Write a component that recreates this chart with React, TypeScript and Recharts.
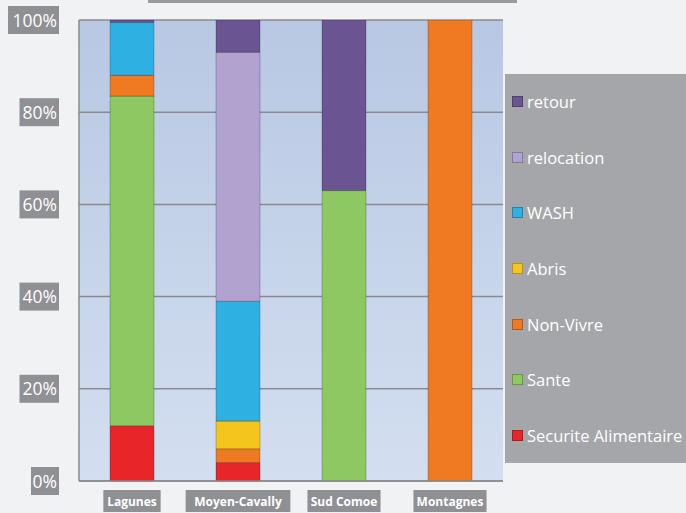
import { BarChart, Bar, XAxis, YAxis, CartesianGrid } from 'recharts';

const categories = ['Lagunes', 'Moyen-Cavally', 'Sud Comoe', 'Montagnes'];
const securite = [12, 4, 0, 0];
const sante = [71.5, 0, 63, 0];
const nonVivre = [4.5, 3, 0, 100];
const abris = [0, 6, 0, 0];
const wash = [11.5, 26, 0, 0];
const relocation = [0, 54, 0, 0];
const retour = [0.5, 7, 37, 0];
const yTicks = [0, 20, 40, 60, 80, 100];

const series = [
    { key: 'securite', name: 'Securite Alimentaire', color: '#e8262a', values: securite },
    { key: 'sante', name: 'Sante', color: '#8dc862', values: sante },
    { key: 'nonVivre', name: 'Non-Vivre', color: '#f07a22', values: nonVivre },
    { key: 'abris', name: 'Abris', color: '#f4c51c', values: abris },
    { key: 'wash', name: 'WASH', color: '#2eb0e3', values: wash },
    { key: 'relocation', name: 'relocation', color: '#b2a2cf', values: relocation },
    { key: 'retour', name: 'retour', color: '#6a5592', values: retour },
];

const data = categories.map((name, i) => {
    const row: any = { name };
    series.forEach((s) => { row[s.key] = s.values[i]; });
    return row;
});

const font = '"Open Sans", sans-serif';

const YTick = ({ x, y, payload }: any) => {
    const text = `${payload.value}%`;
    const w = text.length * 11.5 + 5;
    return (
        <g>
            <rect x={x - w} y={y - 14} width={w} height={28} fill="#8f9093" />
            <text x={x - 2} y={y + 6.5} textAnchor="end" fill="#fff" fontSize={17.5} fontFamily={font}>{text}</text>
        </g>
    );
};

const XTick = ({ x, y, payload }: any) => {
    const text = payload.value;
    const w = text.length * 7.9 + 2;
    return (
        <g>
            <rect x={x - w / 2} y={y} width={w} height={22} fill="#8f9093" />
            <text x={x} y={y + 16} textAnchor="middle" fill="#fff" fontSize={12} fontWeight="bold" fontFamily={font}>{text}</text>
        </g>
    );
};

// legend drawn as a plain box on top of the chart, like the original
const LegendBox = () => (
    <div style={{ position: 'absolute', left: 505, top: 74, width: 181, height: 389, background: '#a5a6a9', display: 'flex', flexDirection: 'column', fontFamily: font, overflow: 'hidden' }}>
        {[...series].reverse().map((s) => (
            <div key={s.key} style={{ height: 55.6, display: 'flex', alignItems: 'center', paddingLeft: 7, color: '#fff', fontSize: 16.5, whiteSpace: 'nowrap' }}>
                <span style={{ width: 11, height: 11, background: s.color, border: '1px solid rgba(0,0,0,0.25)', boxSizing: 'border-box', marginRight: 4, display: 'inline-block', flexShrink: 0 }} />
                {s.name}
            </div>
        ))}
    </div>
);

export default function App() {
    return (
        <div style={{ position: 'absolute', left: 0, top: 0, width: 686, height: 513, background: '#f1f2f4' }}>
            <div style={{ position: 'absolute', left: 148, top: 0, width: 369, height: 3, background: '#9a9b9d' }} />
            <BarChart width={686} height={513} data={data} margin={{ top: 20, right: 183, bottom: 0, left: 0 }} barSize={44}>
                <defs>
                    <linearGradient id="plotBg" x1="0" y1="0" x2="0" y2="1">
                        <stop offset="0%" stopColor="#b8c8e3" />
                        <stop offset="100%" stopColor="#d3dff0" />
                    </linearGradient>
                </defs>
                <CartesianGrid vertical={false} stroke="#8b8b8d" strokeWidth={1.5} fill="url(#plotBg)" fillOpacity={1} />
                <XAxis dataKey="name" height={32} tickSize={0} tickMargin={9} tick={<XTick />} axisLine={{ stroke: '#8b8b8d', strokeWidth: 1.5 }} interval={0} />
                <YAxis width={79} domain={[0, 100]} ticks={yTicks} tickSize={0} tickMargin={20} tick={<YTick />} axisLine={{ stroke: '#8b8b8d', strokeWidth: 1.5 }} allowDataOverflow />
                {series.map((s) => (
                    <Bar key={s.key} dataKey={s.key} name={s.name} stackId="a" fill={s.color} stroke="rgba(0,0,0,0.22)" strokeWidth={1} isAnimationActive={false} />
                ))}
            </BarChart>
            <LegendBox />
        </div>
    );
}
